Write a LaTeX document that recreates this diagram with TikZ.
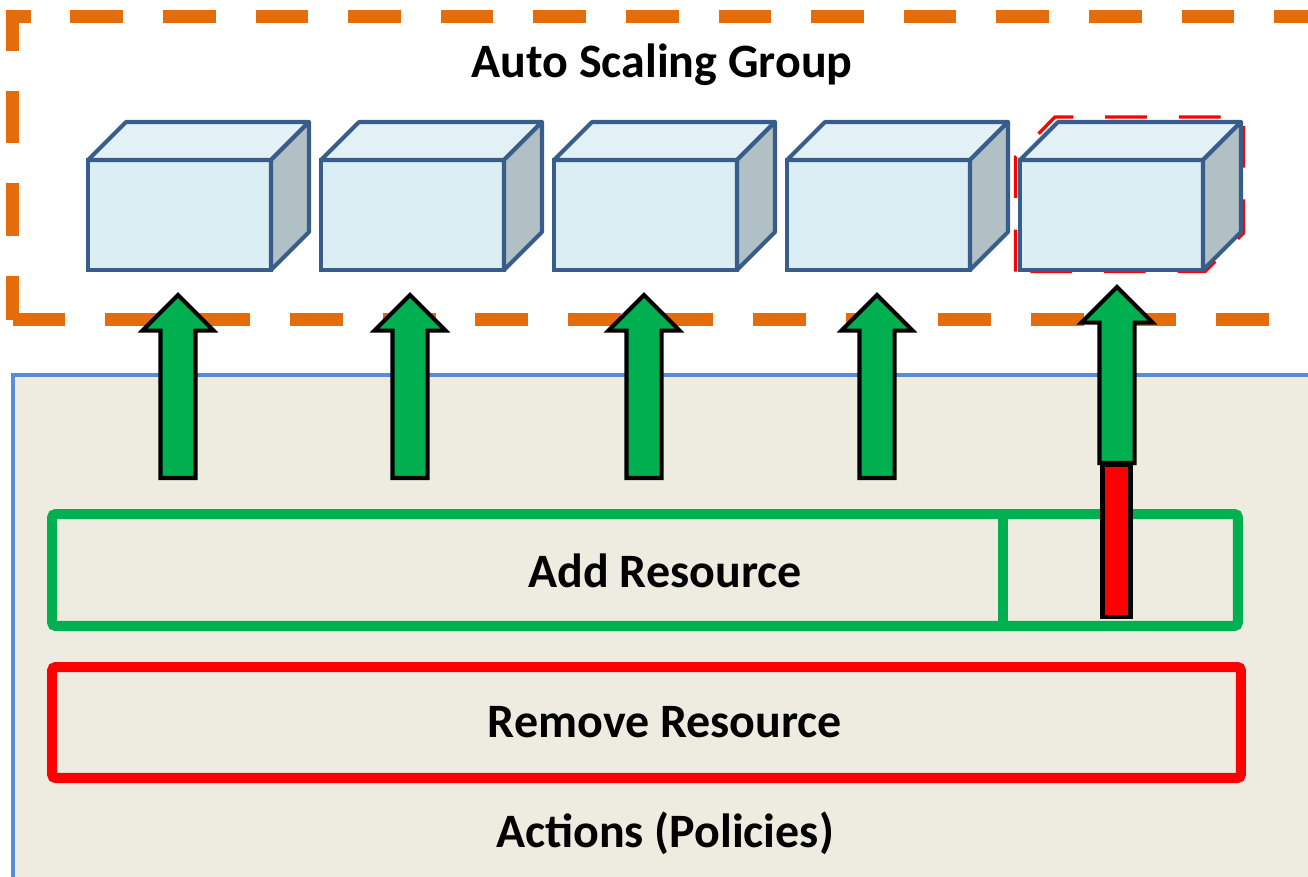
\documentclass[tikz,border=0pt]{standalone}
\usepackage{fontspec}
\setmainfont{Carlito}
\definecolor{asgorange}{RGB}{228,108,10}
\definecolor{addgreen}{RGB}{0,176,80}
\definecolor{panelblue}{RGB}{85,142,213}
\definecolor{panelfill}{RGB}{238,236,225}
\definecolor{cubeedge}{RGB}{56,93,138}
\definecolor{cubefront}{RGB}{219,238,244}
\definecolor{cubetop}{RGB}{225,241,246}
\definecolor{cubeside}{RGB}{177,192,197}
\usepackage{tikz}
\usetikzlibrary{shapes, arrows.meta, positioning, calc}

\begin{document}
\begin{tikzpicture}[
  x=0.02cm, y=-0.02cm,
  lbl/.style={font=\fontsize{27.3}{32}\selectfont\bfseries, anchor=base, inner sep=0pt},
  cbox/.style={draw=cubeedge, line width=2.3pt, fill=cubefront, minimum width=3.66cm, minimum height=2.2cm, inner sep=0pt, outer sep=0pt},
  cface/.style={draw=cubeedge, line width=2.3pt, line join=round},
  garrow/.style={single arrow, draw=black, line width=2.3pt, fill=addgreen, rotate=90, single arrow head extend=0.36cm, minimum height=3.66cm, inner xsep=0pt, inner ysep=0.31cm, outer sep=0pt, anchor=tail},
  abox/.style={draw, line width=5.7pt, rounded corners=2pt, minimum width=23.72cm, minimum height=2.24cm, inner sep=0pt}
]
  \useasboundingbox (0,0) rectangle (1308,876);
  \clip (0,0) rectangle (1308,876);

  % actions panel
  \draw[panelblue, line width=2.8pt, fill=panelfill] (13,900) -- (13,375) -- (1340,375) -- (1340,900);

  % auto scaling group
  \draw[asgorange, line width=7.4pt, dash pattern=on 30pt off 22.7pt, dash phase=5.1pt] (12.5,319.5) -- (12.5,16) -- (1340,16);
  \draw[asgorange, line width=7.4pt, dash pattern=on 30pt off 22.7pt] (12.5,319.5) -- (1340,319.5);
  \node[lbl] (asg) at (662,77) {Auto Scaling Group};

  % new instance outline
  \draw[red, line width=1.9pt, dash pattern=on 23.8pt off 18.1pt] (1015.5,271.5) -- (1015.5,157) -- (1055,117) -- (1243.5,117) -- (1243.5,233) -- (1205,271.5) -- cycle;

  \foreach \i/\cx in {1/179.5, 2/412.5, 3/645.5, 4/878.5, 5/1111.5} {
    \node[cbox] (c\i) at (\cx,215) {};
    \draw[cface, fill=cubetop] (c\i.north west) -- ++(38,-38) -- ++(183,0) -- (c\i.north east) -- cycle;
    \draw[cface, fill=cubeside] (c\i.north east) -- ++(38,-38) -- ++(0,110) -- (c\i.south east) -- cycle;
  }

  % policies
  \node[abox, draw=addgreen] (add) at (645,570) {};
  \draw[addgreen, line width=5.7pt] ([xshift=19.12cm]add.north west) -- ([xshift=19.12cm]add.south west);
  \node[lbl] (addtxt) at (665,587) {Add Resource};
  \node[abox, draw=red, minimum width=23.78cm, minimum height=2.22cm] (rem) at (646.5,722.5) {};
  \node[lbl] (remtxt) at (665,737) {Remove Resource};
  \node[lbl] (acttxt) at (665,847) {Actions (Policies)};

  % scale out
  \node[draw=black, line width=2.8pt, fill=red, minimum width=0.56cm, minimum height=3.04cm, inner sep=0pt] (bar) at (1116.5,541) {};
  \foreach \i/\ax in {1/178, 2/410, 3/644, 4/877}
    \node[garrow] (a\i) at (\ax,478) {};
  \node[garrow, minimum height=3.52cm] (a5) at (1117,463) {};
\end{tikzpicture}
\end{document}
